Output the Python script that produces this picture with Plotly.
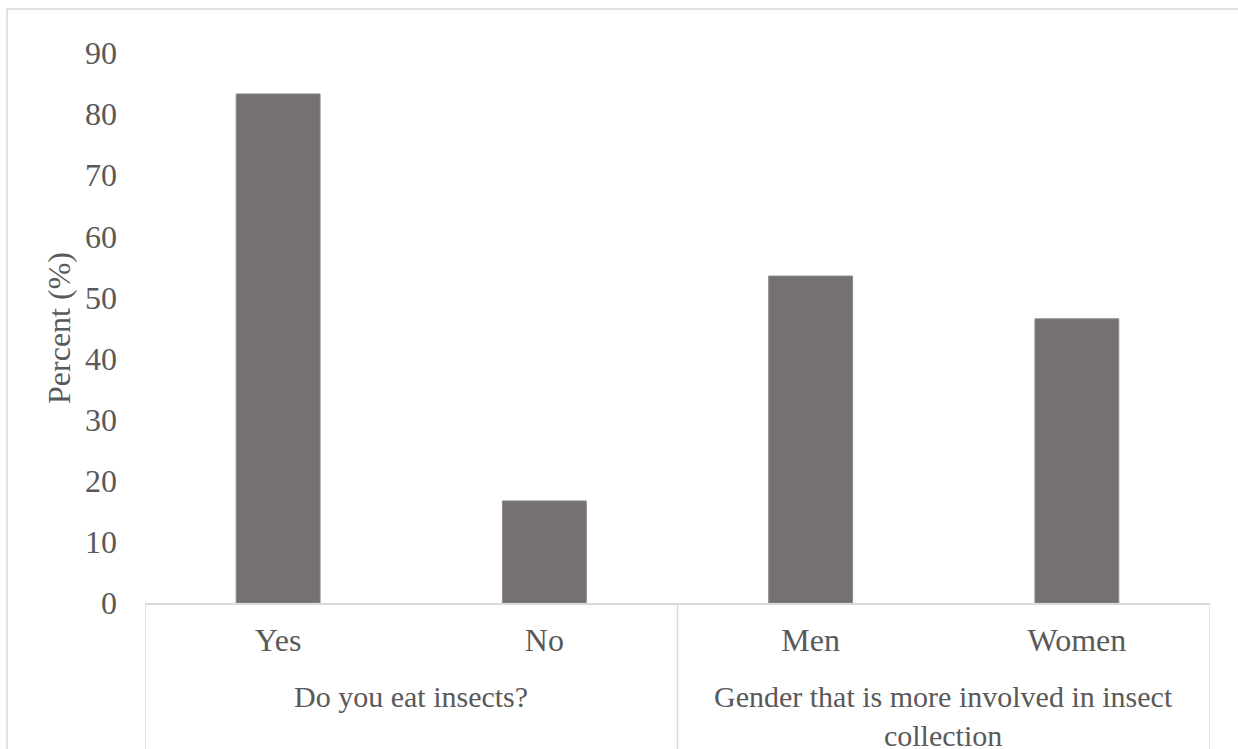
import plotly.graph_objects as go

categories = ["Yes", "No", "Men", "Women"]
percent = [83.3, 16.7, 53.5, 46.5]
group_labels = ["Do you eat insects?",
                "Gender that is more involved in insect<br>collection"]
group_members = [[0, 1], [2, 3]]
y_ticks = [0, 10, 20, 30, 40, 50, 60, 70, 80, 90]

FONT = "Liberation Serif, Times New Roman, serif"
TXT = "#595959"
LINE = "#D9D9D9"
FS = 32
FSG = 30

fig = go.Figure(go.Bar(
    x=categories,
    y=percent,
    marker=dict(color="#767171", line=dict(color="#8C8888", width=1)),
    width=0.315,
))

L, R, T, B = 145, 28, 53, 146
W, H = 1238, 749
pw, ph = W - L - R, H - T - B

def py(p):
    return (H - B - p) / ph

annotations = []
for lab, mem in zip(group_labels, group_members):
    annotations.append(dict(
        text=lab, x=sum(mem) / len(mem), xref="x", y=py(678), yref="paper",
        xanchor="center", yanchor="top", showarrow=False, align="center",
        font=dict(family=FONT, size=FSG, color=TXT),
    ))

shapes = []
bounds = [-0.5] + [m[-1] + 0.5 for m in group_members]
for b in bounds:
    shapes.append(dict(type="line", xref="x", yref="paper", x0=b, x1=b,
                       y0=0, y1=py(H + 40), line=dict(color=LINE, width=1.5)))
shapes.append(dict(
    type="rect", xref="paper", yref="paper",
    x0=(7 - L) / pw, x1=(W + 40 - L) / pw,
    y0=py(H + 40), y1=py(9),
    line=dict(color=LINE, width=1.5), fillcolor="rgba(0,0,0,0)", layer="below",
))

fig.update_layout(
    width=W, height=H,
    margin=dict(l=L, r=R, t=T, b=B, pad=0),
    paper_bgcolor="white", plot_bgcolor="white",
    font=dict(family=FONT, size=FS, color=TXT),
    showlegend=False,
    xaxis=dict(
        type="category", range=[-0.5, 3.5],
        showline=True, linecolor=LINE, linewidth=1.5,
        showgrid=False, ticks="", ticklabelstandoff=8,
        tickfont=dict(family=FONT, size=FS, color=TXT),
        automargin=False,
    ),
    yaxis=dict(
        range=[0, 90], tickvals=y_ticks, showgrid=False, zeroline=False,
        showline=False, ticks="", ticklabelstandoff=27,
        tickfont=dict(family=FONT, size=FS, color=TXT),
        title=dict(text="Percent (%)", font=dict(family=FONT, size=FS, color=TXT), standoff=4),
        automargin=False,
    ),
    annotations=annotations,
    shapes=shapes,
)

fig.write_html("out.html")
